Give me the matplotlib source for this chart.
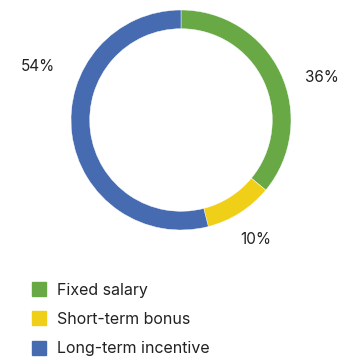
import matplotlib
matplotlib.use('Agg')
import matplotlib.pyplot as plt
from matplotlib.lines import Line2D

plt.rcParams['font.family'] = ['Inter', 'DejaVu Sans']

# pay mix
labels = ['Fixed salary', 'Short-term bonus', 'Long-term incentive']
shares = [36, 10, 54]
colors = ['#68a946', '#efcf17', '#466bb1']

fig = plt.figure(figsize=(3.39, 3.57), dpi=100)
ax = fig.add_axes([71 / 339, 1 - 230 / 357, 220 / 339, 220 / 357])

ax.pie(shares, colors=colors, startangle=90, counterclock=False, radius=1.0,
       wedgeprops=dict(width=0.17, edgecolor='white', linewidth=0.3))
ax.set_xlim(-1, 1)
ax.set_ylim(-1, 1)
ax.set_aspect('equal')

# percentage labels placed outside the ring
label_pos = [(1.28, 0.39), (0.68, -1.09), (-1.30, 0.49)]
for val, (x, y) in zip(shares, label_pos):
    ax.text(x, y, f'{val}%', ha='center', va='center', fontsize=11,
            color='#222222', clip_on=False)

handles = [Line2D([], [], marker='s', linestyle='none', markersize=10,
                  markerfacecolor=c, markeredgecolor=c) for c in colors]
fig.legend(handles, labels, loc='upper left', bbox_to_anchor=(31 / 339, 1 - 283 / 357),
           frameon=False, fontsize=11.5, handlelength=1.0, handletextpad=0.62,
           labelspacing=0.88, borderaxespad=0, borderpad=0, labelcolor='#222222')

fig.savefig('out.png', dpi=100)
